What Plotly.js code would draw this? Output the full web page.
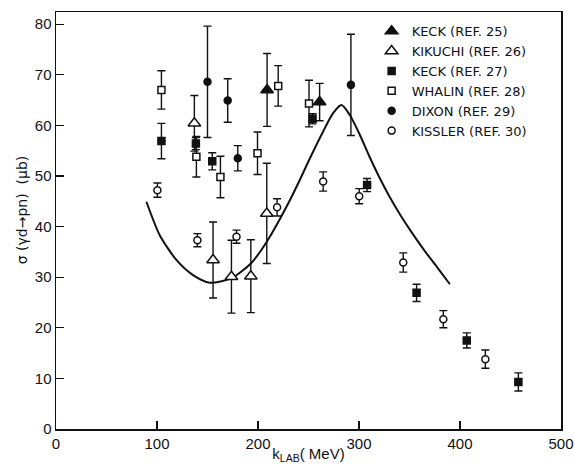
<!DOCTYPE html>
<html>
<head>
<meta charset="utf-8">
<script src="https://cdn.plot.ly/plotly-3.0.1.min.js"></script>
<style>html,body{margin:0;padding:0;background:#fff;}#chart{width:574px;height:464px;}</style>
</head>
<body>
<div id="chart"></div>
<script>
// ---- data ----
const keck25K = [209, 261];
const keck25S = [67.0, 64.6];
const keck25E = [7.2, 3.7];

const kikuchiK = [137, 155.5, 173.7, 192.9, 208.7];
const kikuchiS = [60.4, 33.4, 30.1, 30.2, 42.6];
const kikuchiE = [5.5, 7.5, 7.2, 7.2, 9.9];

const keck27K = [104.4, 138.5, 154.7, 254, 308, 357, 406.7, 457.8];
const keck27S = [56.9, 56.4, 52.9, 61.3, 48.2, 26.9, 17.5, 9.3];
const keck27E = [3.5, 1.2, 1.7, 1.0, 1.3, 1.7, 1.5, 1.8];

const whalinK = [104.4, 139, 162.8, 199.5, 220, 250.5];
const whalinS = [67.0, 53.8, 49.8, 54.5, 67.8, 64.3];
const whalinE = [3.8, 4.0, 4.1, 4.2, 4.0, 4.6];

const dixonK = [150, 170, 180, 292];
const dixonS = [68.6, 64.9, 53.5, 68.0];
const dixonE = [11, 4.3, 2.5, 10];

const kisslerK = [100.4, 140, 178.7, 218.9, 264.5, 300.2, 343.8, 383.5, 425.1];
const kisslerS = [47.2, 37.3, 38.0, 43.8, 48.9, 46.0, 32.9, 21.7, 13.8];
const kisslerE = [1.4, 1.3, 1.3, 1.7, 1.9, 1.5, 1.9, 1.7, 1.8];

const curveK = [89.5, 102.7, 119.2, 135.7, 152.2, 173.7, 192.9, 208.7, 228.2, 241.4, 250, 264.5, 274.4, 282.7, 291, 300, 310, 320, 330, 340, 352, 365, 378, 390];
const curveS = [44.9, 38.3, 33.4, 30.4, 28.9, 29.8, 32.7, 37.0, 43.9, 49.2, 52.9, 58.8, 62.4, 64.0, 62.0, 58.5, 54.0, 49.8, 46.0, 42.6, 38.9, 35.2, 31.8, 28.6];

const legendNames = ['KECK (REF. 25)', 'KIKUCHI (REF. 26)', 'KECK (REF. 27)', 'WHALIN (REF. 28)', 'DIXON (REF. 29)', 'KISSLER (REF. 30)'];
const xTicks = [0, 100, 200, 300, 400, 500];
const yTicks = [0, 10, 20, 30, 40, 50, 60, 70, 80];
const xTitle = 'k<sub>LAB</sub>( MeV)';
const yTitle = 'σ (γd→pn)  (μb)';

// ---- build traces ----
function series(name, k, s, e, symbol, fill, size) {
  return {
    type: 'scatter', mode: 'markers', name: name,
    x: k, y: s,
    error_y: {type: 'data', array: e, visible: true, color: '#111', thickness: 1.4, width: 4},
    marker: {symbol: symbol, size: size, color: fill, line: {color: '#111', width: 1.5}}
  };
}

const traces = [
  {type: 'scatter', mode: 'lines', x: curveK, y: curveS, showlegend: false,
   line: {color: '#111', width: 2, shape: 'spline', smoothing: 0.7}, hoverinfo: 'skip'},
  series(legendNames[0], keck25K, keck25S, keck25E, 'triangle-up', '#111', 11),
  series(legendNames[1], kikuchiK, kikuchiS, kikuchiE, 'triangle-up', '#fff', 11),
  series(legendNames[2], keck27K, keck27S, keck27E, 'square', '#111', 7),
  series(legendNames[3], whalinK, whalinS, whalinE, 'square', '#fff', 7),
  series(legendNames[4], dixonK, dixonS, dixonE, 'circle', '#111', 7),
  series(legendNames[5], kisslerK, kisslerS, kisslerE, 'circle', '#fff', 7)
];

const fontFam = 'Liberation Sans, Arial, sans-serif';
const legFam = 'DejaVu Sans, Liberation Sans, sans-serif';

const layout = {
  width: 574, height: 464,
  margin: {l: 56, r: 13, t: 12, b: 35},
  paper_bgcolor: '#fff', plot_bgcolor: '#fff',
  font: {family: fontFam, color: '#111', size: 14},
  showlegend: true,
  legend: {x: 0.625, y: 0.99, xanchor: 'left', yanchor: 'top', bgcolor: 'rgba(0,0,0,0)',
           font: {family: legFam, size: 13, color: '#111'}, tracegroupgap: 0, itemwidth: 30},
  xaxis: {
    range: [0, 500], tickvals: xTicks, ticktext: xTicks.map(String),
    ticks: 'inside', ticklen: 8, tickwidth: 1.3, tickcolor: '#111',
    showline: true, linecolor: '#111', linewidth: 1.5, mirror: true,
    showgrid: false, zeroline: false,
    tickfont: {family: fontFam, size: 15, color: '#111'},
    title: {text: xTitle, font: {family: fontFam, size: 15, color: '#111'}, standoff: 2}
  },
  yaxis: {
    range: [0, 82.4], tickvals: yTicks, ticktext: yTicks.map(String),
    ticks: 'inside', ticklen: 8, tickwidth: 1.3, tickcolor: '#111',
    showline: true, linecolor: '#111', linewidth: 1.5, mirror: true,
    showgrid: false, zeroline: false,
    tickfont: {family: fontFam, size: 15, color: '#111'}
  },
  annotations: [
    {text: yTitle, xref: 'paper', yref: 'paper', x: -0.067, y: 0.525, xanchor: 'center', yanchor: 'middle',
     textangle: -90, showarrow: false, font: {family: legFam, size: 14, color: '#111'}}
  ]
};

Plotly.newPlot('chart', traces, layout, {staticPlot: true, displayModeBar: false});
</script>
</body>
</html>
